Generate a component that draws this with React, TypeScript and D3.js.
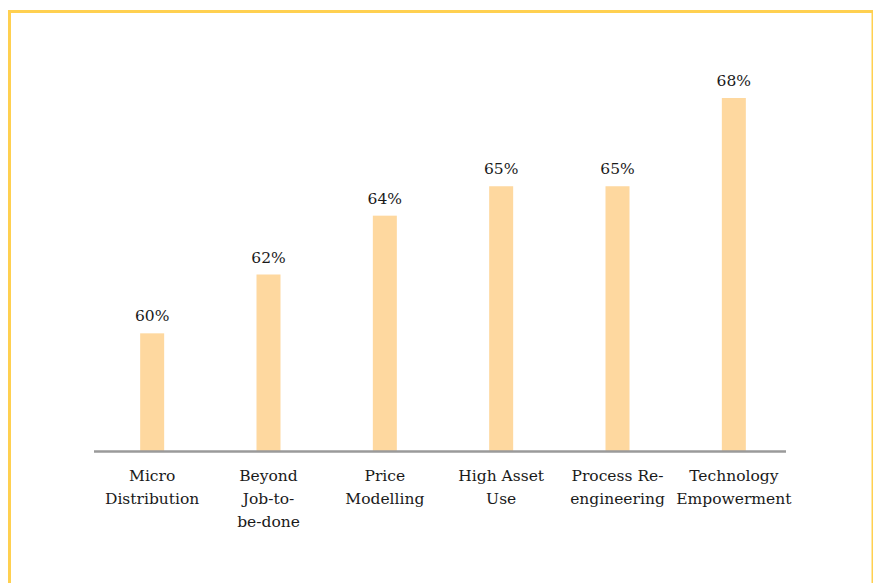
import React, { useRef, useEffect } from "react";
import * as d3 from "d3";

const categories = [
  "Micro Distribution",
  "Beyond Job-to-be-done",
  "Price Modelling",
  "High Asset Use",
  "Process Re-engineering",
  "Technology Empowerment",
];
// wrapped lines as in the original layout
const categoryLines = [
  ["Micro", "Distribution"],
  ["Beyond", "Job-to-", "be-done"],
  ["Price", "Modelling"],
  ["High Asset", "Use"],
  ["Process Re-", "engineering"],
  ["Technology", "Empowerment"],
];
const values = [60, 62, 64, 65, 65, 68];

export default function App() {
  const chartRef = useRef<SVGSVGElement>(null);

  useEffect(() => {
    const svg = d3.select(chartRef.current);
    svg.selectAll("*").remove();

    const font = "'DejaVu Serif', serif";

    // frame
    svg
      .append("rect")
      .attr("x", 9.5)
      .attr("y", 11.5)
      .attr("width", 863.5)
      .attr("height", 600)
      .attr("fill", "#ffffff")
      .attr("stroke", "#ffd050")
      .attr("stroke-width", 3);

    const baseline = 451;
    const x = d3
      .scaleBand<string>()
      .domain(categories)
      .range([94, 792])
      .padding(0);
    const y = d3.scaleLinear().domain([56, 68]).range([baseline, 98]);
    const barW = 24;

    const g = svg.append("g");

    g.selectAll("rect.bar")
      .data(values)
      .enter()
      .append("rect")
      .attr("class", "bar")
      .attr("x", (d, i) => x(categories[i])! + x.bandwidth() / 2 - barW / 2)
      .attr("y", (d) => y(d))
      .attr("width", barW)
      .attr("height", (d) => baseline - y(d))
      .attr("fill", "#fed89f");

    g.selectAll("text.val")
      .data(values)
      .enter()
      .append("text")
      .attr("class", "val")
      .attr("x", (d, i) => x(categories[i])! + x.bandwidth() / 2)
      .attr("y", (d) => y(d) - 12)
      .attr("text-anchor", "middle")
      .attr("font-family", font)
      .attr("font-size", 15.5)
      .attr("fill", "#1a1a1a")
      .text((d) => d + "%");

    // axis line
    g.append("line")
      .attr("x1", 94)
      .attr("x2", 786)
      .attr("y1", baseline + 0.5)
      .attr("y2", baseline + 0.5)
      .attr("stroke", "#9a9a9a")
      .attr("stroke-width", 2.5);

    const labels = g
      .selectAll("text.cat")
      .data(categories)
      .enter()
      .append("text")
      .attr("class", "cat")
      .attr("text-anchor", "middle")
      .attr("font-family", font)
      .attr("font-size", 15.5)
      .attr("fill", "#1a1a1a");

    labels.each(function (d, i) {
      const t = d3.select(this);
      categoryLines[i].forEach((line, k) => {
        t.append("tspan")
          .attr("x", x(d)! + x.bandwidth() / 2)
          .attr("y", 481 + k * 23)
          .text(line);
      });
    });
  }, []);

  return (
    <svg
      ref={chartRef}
      width={873}
      height={583}
      style={{ position: "absolute", left: 0, top: 0, background: "#ffffff" }}
    ></svg>
  );
}
